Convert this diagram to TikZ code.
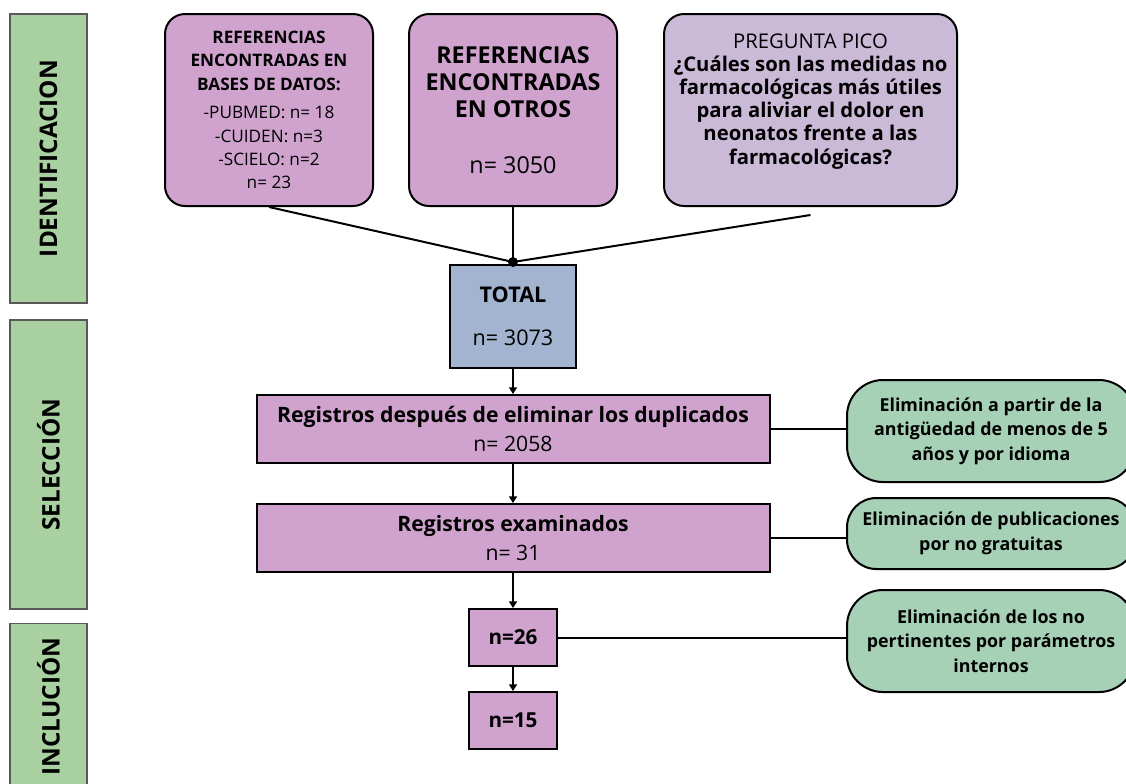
\documentclass[tikz,border=0pt]{standalone}
\usepackage{fontspec}
\setmainfont{Open Sans}
\usetikzlibrary{positioning,arrows.meta}

\definecolor{phasegreen}{HTML}{A9D0A0}
\definecolor{refpurple}{HTML}{CFA3CE}
\definecolor{picopurple}{HTML}{CBB9D8}
\definecolor{totalblue}{HTML}{A3B4D0}
\definecolor{elimgreen}{HTML}{A6D1B6}

\tikzset{
  phase/.style={draw=black!65, line width=0.8pt, fill=phasegreen, rotate=90,
    minimum width=216.75pt, minimum height=57.75pt, inner sep=0pt,
    font=\bfseries\fontsize{18.2}{21}\selectfont},
  refbox/.style={draw, line width=1.5pt, fill=refpurple, rounded corners=15pt,
    minimum width=156pt, minimum height=144pt, align=center, inner sep=2pt},
  picobox/.style={refbox, fill=picopurple, minimum width=219.75pt},
  totalbox/.style={draw, line width=1.5pt, fill=totalblue, minimum width=94.5pt,
    minimum height=77.25pt, align=center, font=\fontsize{16.2}{19}\selectfont},
  stepbox/.style={draw, line width=1.5pt, fill=refpurple, minimum width=384.75pt,
    minimum height=51pt, align=center, font=\fontsize{15.9}{21.75}\selectfont},
  numbox/.style={draw, line width=1.5pt, fill=refpurple, minimum width=66pt,
    minimum height=42.75pt, font=\bfseries\fontsize{15.5}{18}\selectfont},
  elimbox/.style={draw, line width=1.5pt, fill=elimgreen, rounded corners=27pt,
    minimum width=216pt, align=center,
    font=\bfseries\fontsize{13.4}{18.5}\selectfont},
  conn/.style={line width=1.5pt},
  arr/.style={conn, -{Triangle[length=5pt,width=6pt]}}
}

\begin{document}
\begin{tikzpicture}[x=0.75pt,y=-0.75pt]
  \useasboundingbox (0,0) rectangle (1126,783);

  % Define nodes
  \node[phase] (ident) at (48.5,158.5) {IDENTIFICACION};
  \node[phase] (selec) at (48.5,464.5) {SELECCIÓN};
  \node[phase, minimum width=125pt] (inclu) at (48.5,706.5) {INCLUCIÓN};

  \node[refbox, font=\fontsize{12.9}{17.5}\selectfont] (refdb) at (269,110)
    {\textbf{REFERENCIAS}\\\textbf{ENCONTRADAS EN}\\\textbf{BASES DE DATOS:}\\[4pt]
     -PUBMED: n= 18\\-CUIDEN: n=3\\-SCIELO: n=2\\n= 23};
  \node[refbox, font=\fontsize{17.5}{20.25}\selectfont] (refot) at (513,110)
    {\textbf{REFERENCIAS}\\\textbf{ENCONTRADAS}\\\textbf{EN OTROS}\\[22pt] n= 3050};
  \node[picobox, font=\fontsize{15.2}{17.4}\selectfont, text depth=17pt] (pico) at (810.5,110)
    {PREGUNTA PICO\\\textbf{¿Cuáles son las medidas no}\\\textbf{farmacológicas más útiles}\\
     \textbf{para aliviar el dolor en}\\\textbf{neonatos frente a las}\\\textbf{farmacológicas?}};

  \node[totalbox] (total) at (513,316.5) {\textbf{TOTAL}\\[13pt] n= 3073};
  \node[stepbox] (dupl) at (513,429) {\textbf{Registros después de eliminar los duplicados}\\n= 2058};
  \node[stepbox, below=29.25pt of dupl] (exam) {\textbf{Registros examinados}\\n= 31};
  \node[numbox] (n26) at (513,637.5) {n=26};
  \node[numbox, below=18pt of n26] (n15) {n=15};

  \node[elimbox, minimum height=76.5pt] (elim1) at (991,431)
    {Eliminación a partir de la\\antigüedad de menos de 5\\años y por idioma};
  \node[elimbox, minimum height=53.25pt, rounded corners=22pt] (elim2) at (991,533.5)
    {Eliminación de publicaciones\\por no gratuitas};
  \node[elimbox, minimum height=76.5pt] (elim3) at (991,641)
    {Eliminación de los no\\pertinentes por parámetros\\internos};

  \coordinate (join) at (513,262);
  \coordinate (picoq) at ([yshift=-6pt]pico.south);

  % Connect the nodes
  \draw[conn] (refdb.south) -- (join);
  \draw[conn] (refot.south) -- (join);
  \draw[conn] (picoq) -- (join);
  \fill (join) circle (3.75pt);
  \draw[arr] (total) -- (dupl);
  \draw[arr] (dupl) -- (exam);
  \draw[arr] (exam) -- (n26);
  \draw[arr] (n26) -- (n15);
  \draw[conn] (dupl.east) -- (dupl.east -| elim1.west);
  \draw[conn] (exam.east) -- (exam.east -| elim2.west);
  \draw[conn] (n26.east) -- (n26.east -| elim3.west);
\end{tikzpicture}
\end{document}
